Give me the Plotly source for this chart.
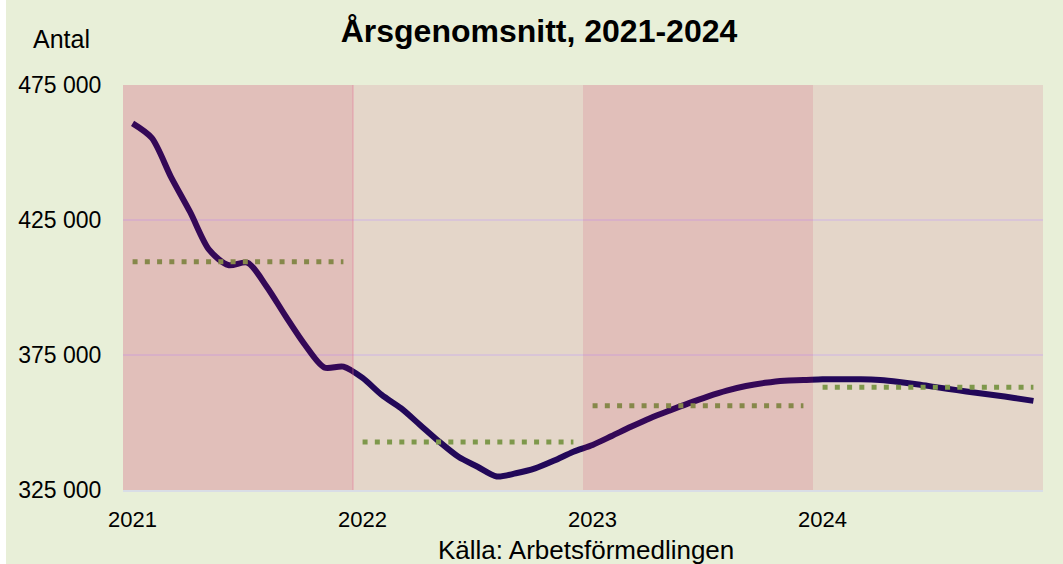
import plotly.graph_objects as go

# ---- data ----
years = ["2021", "2022", "2023", "2024"]
monthly = [
    460800, 455400, 441000, 428000, 413900, 408300, 409200, 400300, 389200, 378700, 370400, 370700,
    366500, 360200, 355300, 349100, 342900, 337300, 333600, 330000, 331200, 333000, 335900, 339200,
    341700, 345000, 348400, 351600, 354400, 357100, 359600, 361800, 363500, 364700, 365500, 365700,
    366000, 366000, 366000, 365700, 365000, 364100, 363000, 362000, 361000, 360100, 359100, 358000,
]
annual_avg = [409500, 342800, 356200, 363100]
y_ticks = [325000, 375000, 425000, 475000]
y_tick_text = ["325 000", "375 000", "425 000", "475 000"]

BG = "#e8efd8"
LINE = "#100a5c"
DOT = "#76aa4c"
FONT = "Liberation Sans, Arial, sans-serif"

W, H = 1057, 564
idx = list(range(len(monthly)))

fig = go.Figure()
fig.add_trace(go.Scatter(
    x=idx, y=monthly, mode="lines",
    line=dict(color=LINE, width=6, shape="spline", smoothing=0.8),
    hoverinfo="skip", showlegend=False,
))
for k, avg in enumerate(annual_avg):
    xs = idx[k * 12:(k + 1) * 12]
    fig.add_trace(go.Scatter(
        x=xs, y=[avg] * len(xs), mode="lines",
        line=dict(color=DOT, width=5, dash="5px,7.25px"),
        hoverinfo="skip", showlegend=False,
    ))

shapes = []
for k in range(len(years)):
    alpha = 0.2 if k % 2 == 0 else 0.1
    shapes.append(dict(
        type="rect", xref="x", yref="paper",
        x0=k * 12 - 0.5, x1=k * 12 + 11.5, y0=0, y1=1,
        fillcolor=f"rgba(200,0,70,{alpha})", line=dict(width=0), layer="above",
    ))
shapes.append(dict(
    type="line", xref="x", yref="paper", x0=11.5, x1=11.5, y0=0, y1=1,
    line=dict(color="rgba(230,110,150,0.5)", width=1), layer="above",
))

fig.update_layout(
    width=W, height=H,
    margin=dict(l=113, r=20, t=85, b=74),
    paper_bgcolor=BG, plot_bgcolor=BG,
    font=dict(family=FONT, color="#000000", size=22),
    title=dict(
        text="<b>Årsgenomsnitt, 2021-2024</b>",
        x=533 / W, xanchor="center", xref="container",
        y=1 - 31 / H, yanchor="middle", yref="container",
        font=dict(family=FONT, size=32, color="#000000"),
    ),
    shapes=shapes,
    xaxis=dict(
        range=[-0.5, 47.5], tickvals=[0, 12, 24, 36], ticktext=years,
        showgrid=False, zeroline=False,
        showline=True, linecolor="#d9dde6", linewidth=2,
        ticks="outside", ticklen=9, tickcolor="rgba(0,0,0,0)",
        tickfont=dict(size=22),
    ),
    yaxis=dict(
        range=[325000, 475000], tickvals=y_ticks, ticktext=y_tick_text,
        showgrid=True, gridcolor="#dcdce8", gridwidth=1.5, zeroline=False,
        showline=False,
        ticks="outside", ticklen=16, tickcolor="rgba(0,0,0,0)",
        tickfont=dict(size=23),
    ),
    annotations=[
        dict(text="Antal", xref="paper", yref="paper",
             x=(21 - 113) / 924, y=(490 - 39) / 405,
             xanchor="left", yanchor="middle", showarrow=False,
             font=dict(size=25)),
        dict(text="Källa: Arbetsförmedlingen", xref="paper", yref="paper",
             x=(584 - 119) / 924, y=(490 - 550) / 405,
             xanchor="center", yanchor="middle", showarrow=False,
             font=dict(size=26)),
    ],
)

fig.write_html(
    "out.html",
    post_script="document.body.style.margin='0px 0px 0px 6px';",
)
